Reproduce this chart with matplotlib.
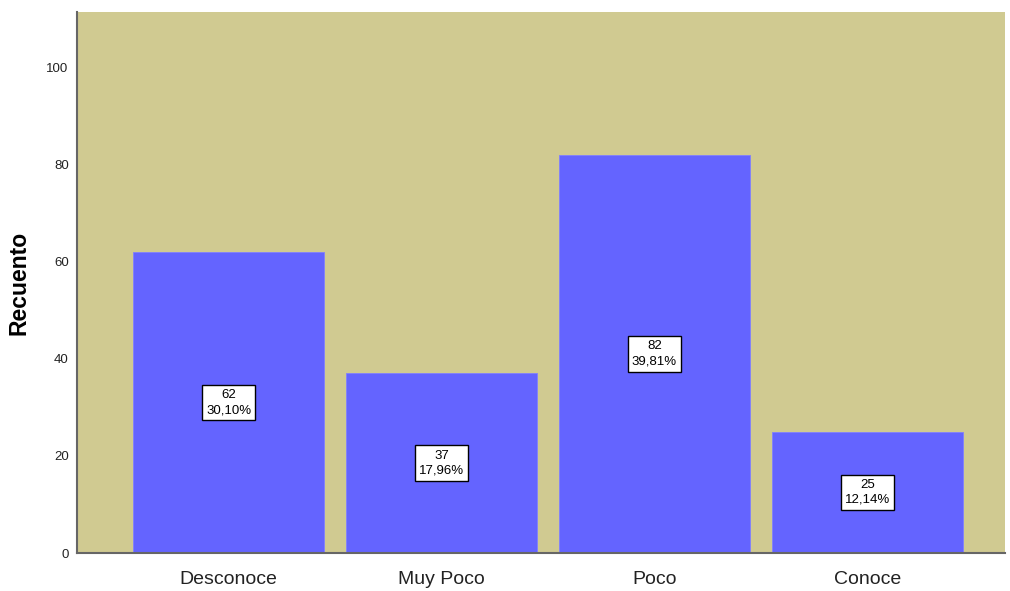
#!/usr/bin/env python3
# -*- coding: utf-8 -*-
"""Bar chart of Recuento per category with count / percent labels."""

import matplotlib

matplotlib.use("Agg")
import matplotlib.pyplot as plt

categories = ["Desconoce", "Muy Poco", "Poco", "Conoce"]
counts = [62, 37, 82, 25]
percent_labels = ["30,10%", "17,96%", "39,81%", "12,14%"]
y_ticks = [0, 20, 40, 60, 80, 100]

plt.rcParams["font.family"] = ["Liberation Sans", "DejaVu Sans"]

fig = plt.figure(figsize=(10.10, 5.91), dpi=100)
ax = fig.add_axes([77 / 1010, 38 / 591, (1005 - 77) / 1010, (553 - 12) / 591])
ax.set_facecolor("#D0CA91")

positions = list(range(len(categories)))
ax.bar(positions, counts, width=0.898, color="#6464FF", edgecolor="#8080FF", linewidth=0.6, zorder=2)

for pos, count, pct in zip(positions, counts, percent_labels):
    ax.text(
        pos,
        count / 2,
        f"{count}\n{pct}",
        ha="center",
        va="center",
        fontsize=9.5,
        color="#000000",
        linespacing=1.35,
        bbox=dict(boxstyle="square,pad=0.32", facecolor="white", edgecolor="black", linewidth=1.0),
        zorder=3,
    )

ax.set_xlim(-0.712, len(categories) - 1 + 0.646)
ax.set_ylim(0, 111.5)
ax.set_xticks(positions)
ax.set_xticklabels(categories, fontsize=14, color="#222222")
ax.set_yticks(y_ticks)
ax.set_yticklabels([str(v) for v in y_ticks], fontsize=9.5, color="#222222")
ax.tick_params(axis="both", length=0, pad=6)
ax.tick_params(axis="x", pad=13)

for side in ("top", "right"):
    ax.spines[side].set_visible(False)
for side in ("left", "bottom"):
    ax.spines[side].set_color("#666666")
    ax.spines[side].set_linewidth(1.5)

ax.set_ylabel("Recuento", fontsize=16.5, fontweight="bold")
ax.yaxis.set_label_coords(-46 / 928, 0.5)

fig.savefig("out.png", dpi=100)
plt.close(fig)
